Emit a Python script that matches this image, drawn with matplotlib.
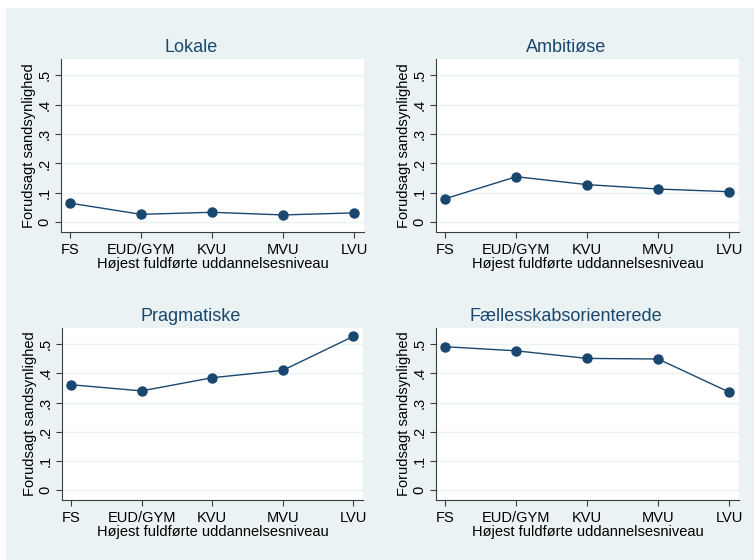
import matplotlib
matplotlib.use("Agg")
import matplotlib.pyplot as plt
from matplotlib.patches import Rectangle

# education levels on the x axis
levels = ["FS", "EUD/GYM", "KVU", "MVU", "LVU"]

# predicted probabilities per group
lokale = [0.065, 0.027, 0.034, 0.025, 0.032]
ambitiose = [0.080, 0.155, 0.128, 0.113, 0.104]
pragmatiske = [0.361, 0.340, 0.385, 0.410, 0.526]
faelles = [0.491, 0.477, 0.451, 0.449, 0.336]

titles = ["Lokale", "Ambitiøse", "Pragmatiske", "Fællesskabsorienterede"]
series = [lokale, ambitiose, pragmatiske, faelles]
yticks = [0, 0.1, 0.2, 0.3, 0.4, 0.5]
ytick_labels = ["0", ".1", ".2", ".3", ".4", ".5"]

navy = "#1A476F"
bg = "#EAF2F3"

plt.rcParams["font.family"] = ["Liberation Sans", "DejaVu Sans"]

W, H = 754, 560
fig = plt.figure(figsize=(W / 100, H / 100), dpi=100)
fig.patch.set_facecolor("white")
# stata style light background, image is cropped on top/left
fig.patches.append(Rectangle((6 / W, 0), 1, 1 - 8 / H, transform=fig.transFigure,
                             facecolor=bg, edgecolor="none", zorder=-10))

# axes boxes in pixels: left, right, top, bottom
boxes = [(61, 364, 59, 232), (436, 739, 59, 232),
         (62, 363, 328, 500), (436, 739, 328, 500)]

for box, title, vals in zip(boxes, titles, series):
    l, r, t, b = box
    ax = fig.add_axes([l / W, 1 - b / H, (r - l) / W, (b - t) / H])
    ax.set_facecolor("white")
    x = list(range(len(levels)))
    ax.plot(x, vals, color=navy, lw=1.0, marker="o", ms=6.5, zorder=3)
    ax.set_xlim(-0.13, 4.14)
    ax.set_ylim(-0.033, 0.555)
    ax.set_xticks(x)
    ax.set_xticklabels(levels, fontsize=10.5)
    ax.set_yticks(yticks)
    ax.set_yticklabels(ytick_labels, fontsize=10.5, rotation=90, va="center")
    ax.grid(axis="y", color=bg, lw=1.0)
    ax.set_axisbelow(True)
    for s in ["top", "right"]:
        ax.spines[s].set_visible(False)
    for s in ["left", "bottom"]:
        ax.spines[s].set_color("#3c3c3c")
        ax.spines[s].set_linewidth(0.8)
    ax.tick_params(length=4, width=0.8, color="#3c3c3c")
    ax.tick_params(axis="x", pad=4)
    ax.tick_params(axis="y", pad=3)
    ax.set_xlabel("Højest fuldførte uddannelsesniveau", fontsize=10.5, labelpad=0)
    ax.set_ylabel("Forudsagt sandsynlighed", fontsize=10.5, labelpad=1)
    # stata centres the title over the whole sub-graph, not only the plot area
    ax.set_title(title, fontsize=13, color=navy, pad=5, x=0.428)

fig.savefig("out.png", dpi=100, facecolor=fig.get_facecolor())
